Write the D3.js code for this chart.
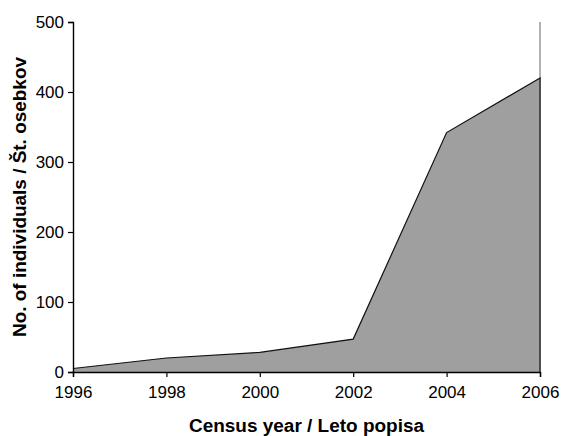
<!DOCTYPE html>
<html>
<head>
<meta charset="utf-8">
<script src="https://cdn.jsdelivr.net/npm/d3@7/dist/d3.min.js"></script>
<style>
  html, body { margin: 0; padding: 0; background: #fff; }
  svg { display: block; }
  .tick text { font-family: "Liberation Sans", Arial, sans-serif; font-size: 17px; fill: #000; }
</style>
</head>
<body>
<svg id="chart" width="562" height="436"></svg>
<script>
// Census counts per year
const years = [1996, 1998, 2000, 2002, 2004, 2006];
const individuals = [5, 20, 28, 47, 342, 420];
const yTicks = [0, 100, 200, 300, 400, 500];
const xTitle = "Census year / Leto popisa";
const yTitle = "No. of individuals / Št. osebkov";

const svg = d3.select("#chart");
const margin = { left: 73, right: 22, top: 22, bottom: 64 };
const W = 562, H = 436;

const x = d3.scaleLinear().domain([1996, 2006]).range([margin.left, W - margin.right]);
const y = d3.scaleLinear().domain([0, 500]).range([H - margin.bottom, margin.top]);

const data = years.map((yr, i) => ({ year: yr, value: individuals[i] }));

// right-hand frame line at the last census year
svg.append("line")
  .attr("x1", x(2006)).attr("x2", x(2006))
  .attr("y1", y(500)).attr("y2", y(0))
  .attr("stroke", "#888").attr("stroke-width", 1.3);

// filled area under the counts
svg.append("path")
  .datum(data)
  .attr("fill", "#9f9f9f")
  .attr("d", d3.area().x(d => x(d.year)).y0(y(0)).y1(d => y(d.value)));

// outline of the area (top edge plus right edge)
const last = data[data.length - 1];
svg.append("path")
  .datum(data)
  .attr("fill", "none")
  .attr("stroke", "#111")
  .attr("stroke-width", 1.2)
  .attr("d", d3.line().x(d => x(d.year)).y(d => y(d.value))(data) +
    "L" + x(last.year) + "," + y(0));

// axes
const xAxis = svg.append("g")
  .attr("transform", `translate(0,${y(0)})`)
  .call(d3.axisBottom(x).tickValues(years).tickFormat(d3.format("d")).tickSize(5).tickPadding(9));
const yAxis = svg.append("g")
  .attr("transform", `translate(${x(1996)},0)`)
  .call(d3.axisLeft(y).tickValues(yTicks).tickSize(5).tickPadding(4));

[xAxis, yAxis].forEach(g => {
  g.select(".domain").attr("stroke", "#000").attr("stroke-width", 1.4);
  g.selectAll(".tick line").attr("stroke", "#000").attr("stroke-width", 1.2);
});
yAxis.selectAll(".tick text").attr("dy", "0.35em");

// axis titles
svg.append("text")
  .attr("x", (x(1996) + x(2006)) / 2)
  .attr("y", 432)
  .attr("text-anchor", "middle")
  .attr("font-family", "Liberation Sans, Arial, sans-serif")
  .attr("font-weight", "bold")
  .attr("font-size", 18)
  .attr("textLength", 235)
  .attr("lengthAdjust", "spacingAndGlyphs")
  .text(xTitle);

svg.append("text")
  .attr("transform", `translate(26,${(y(0) + y(500)) / 2}) rotate(-90)`)
  .attr("text-anchor", "middle")
  .attr("font-family", "Liberation Sans, Arial, sans-serif")
  .attr("font-weight", "bold")
  .attr("font-size", 18)
  .attr("textLength", 280)
  .attr("lengthAdjust", "spacingAndGlyphs")
  .text(yTitle);
</script>
</body>
</html>
